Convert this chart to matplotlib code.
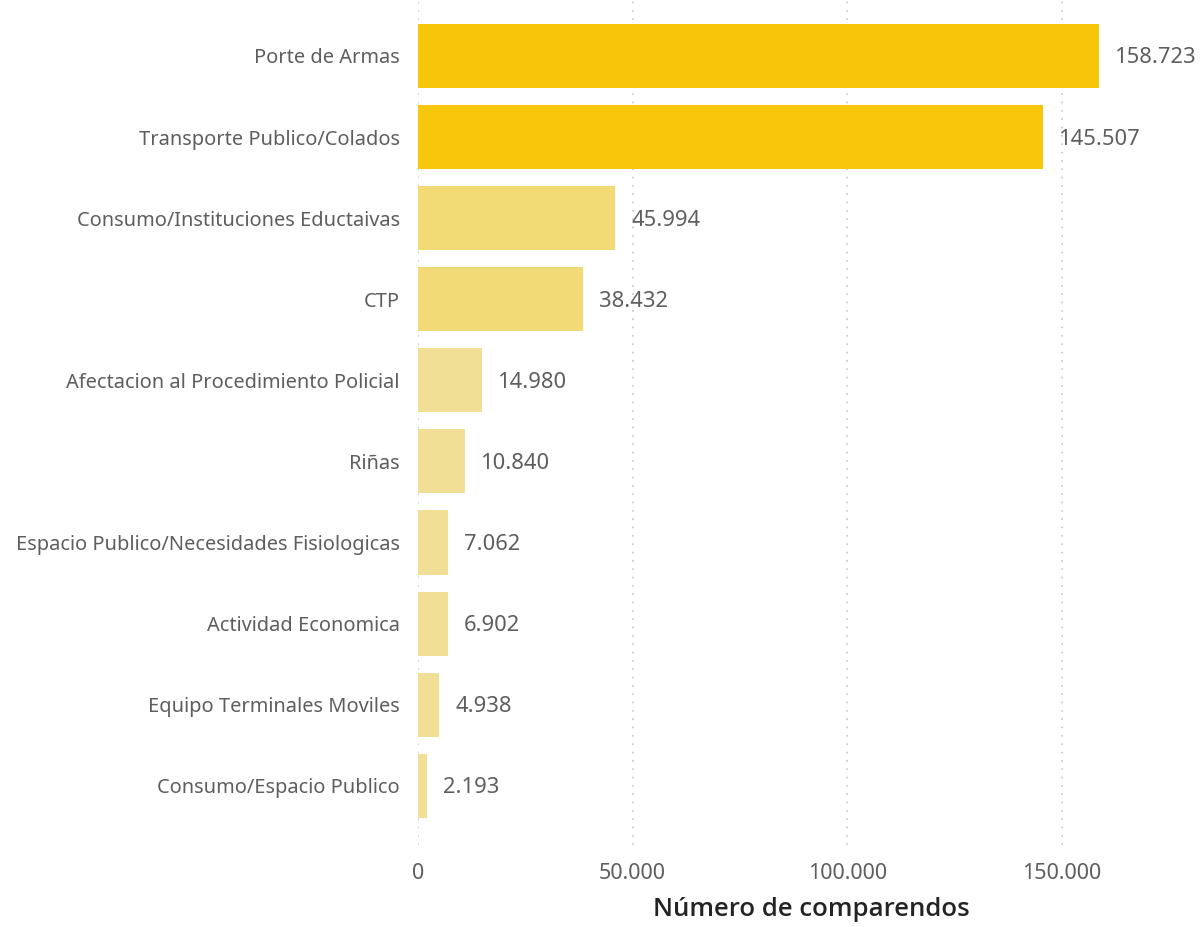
import matplotlib
matplotlib.use("Agg")
import matplotlib.pyplot as plt
from matplotlib.ticker import FuncFormatter

categories = [
    "Porte de Armas",
    "Transporte Publico/Colados",
    "Consumo/Instituciones Eductaivas",
    "CTP",
    "Afectacion al Procedimiento Policial",
    "Riñas",
    "Espacio Publico/Necesidades Fisiologicas",
    "Actividad Economica",
    "Equipo Terminales Moviles",
    "Consumo/Espacio Publico",
]
values = [158723, 145507, 45994, 38432, 14980, 10840, 7062, 6902, 4938, 2193]
bar_colors = ["#F8C608", "#F8C60B", "#F2DA74", "#F2DA76",
              "#F0DF94", "#F0DF94", "#F0DF94", "#F0DF94", "#F0DF94", "#F0DF94"]
xticks = [0, 50000, 100000, 150000]

plt.rcParams['font.family'] = ['Noto Sans', 'DejaVu Sans']

def fmt(v):
    return f"{int(v):,}".replace(",", ".")

fig = plt.figure(figsize=(12, 9.27), dpi=100)
ax = fig.add_axes([418/1200, 1 - 845/927, (1180-418)/1200, 845/927])

y = list(range(len(categories)))
ax.barh(y, values, height=0.79, color=bar_colors, zorder=2)

for yi, v in zip(y, values):
    ax.annotate(fmt(v), (v, yi), xytext=(16, -2), textcoords="offset pixels",
                va="center", ha="left", fontsize=15.8, color="#605E5C")

ax.set_yticks(y)
ax.set_yticklabels(categories, fontsize=14.4, color="#605E5C")
ax.set_ylim(9.73, -0.69)
ax.set_xlim(0, (1180-418) / ((1062-418)/150000))
ax.set_xticks(xticks)
ax.xaxis.set_major_formatter(FuncFormatter(lambda v, p: fmt(v)))
for lab in ax.get_xticklabels():
    lab.set_fontsize(15.5)
    lab.set_color("#605E5C")
ax.tick_params(axis="both", length=0)
ax.tick_params(axis="y", pad=13)
ax.tick_params(axis="x", pad=13)
ax.grid(axis="x", linestyle=(0, (1, 4)), color="#C8C6C4", linewidth=1.2, zorder=0)
for s in ax.spines.values():
    s.set_visible(False)

fig.text(811/1200, 1 - 910/927, "Número de comparendos", fontsize=18.5,
         fontweight="semibold", family=["Open Sans", "DejaVu Sans"],
         color="#252423", ha="center", va="center")

fig.savefig("out.png", dpi=100, facecolor="white")
